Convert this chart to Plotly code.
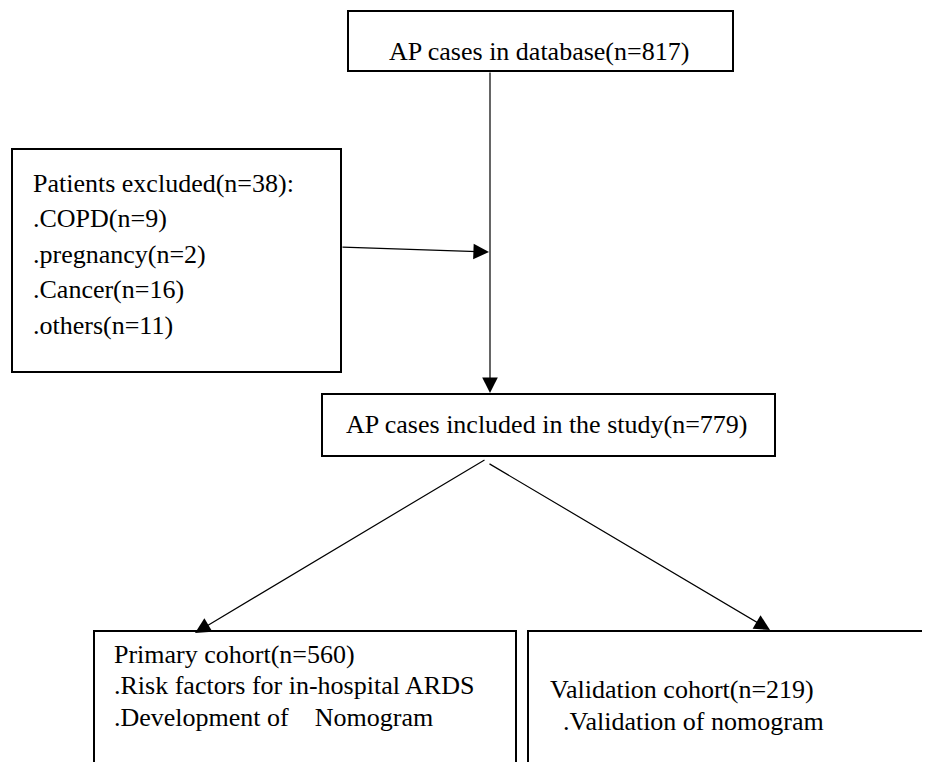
import plotly.graph_objects as go

# ---- data ----
total_cases = 817
excluded_total = 38
exclusion_reasons = ["COPD", "pregnancy", "Cancer", "others"]
exclusion_counts = [9, 2, 16, 11]
included_total = 779
primary_n = 560
validation_n = 219
primary_tasks = [".Risk factors for in-hospital ARDS",
                 ".Development of \u00a0\u00a0\u00a0Nomogram"]
validation_tasks = [".Validation of nomogram"]

# ---- layout geometry (pixels, y downward) ----
W, H = 930, 770
OFF = 8  # page body margin compensation
FONT = dict(family="Liberation Serif, Times New Roman, serif", size=26, color="black")

boxes = {
    "top": (348, 11, 733, 71),
    "excl": (12, 149, 341, 372),
    "mid": (322, 394, 775, 456),
    "prim": (94, 631, 516, 800),
    "val": (528, 631, 960, 800),
}

fig = go.Figure()
fig.add_trace(go.Scatter(x=[OFF, W], y=[OFF, H - OFF], mode="markers",
                         marker=dict(opacity=0), hoverinfo="skip", showlegend=False))

for key, (x0, y0, x1, y1) in boxes.items():
    fig.add_shape(type="rect", x0=x0, y0=y0, x1=x1, y1=y1, xref="x", yref="y",
                  line=dict(color="black", width=2), fillcolor="rgba(0,0,0,0)")

def text(x, y, s):
    fig.add_annotation(x=x, y=y, text=s, showarrow=False, xanchor="left",
                       yanchor="middle", xref="x", yref="y", font=FONT, borderpad=0)

text(388, 51, f"AP cases in database(n={total_cases})")
excl_lines = [f"Patients excluded(n={excluded_total}):"] + \
    [f".{r}(n={c})" for r, c in zip(exclusion_reasons, exclusion_counts)]
for i, s in enumerate(excl_lines):
    text(32, 183 + i * 35.5, s)
text(345, 424, f"AP cases included in the study(n={included_total})")
prim_lines = [f"Primary cohort(n={primary_n})"] + primary_tasks
for i, s in enumerate(prim_lines):
    text(113, 654 + i * 31.5, s)
text(549, 689, f"Validation cohort(n={validation_n})")
text(562, 721, validation_tasks[0])

def arrow(x0, y0, x1, y1):
    fig.add_annotation(x=x1, y=y1, ax=x0, ay=y0, xref="x", yref="y", axref="x", ayref="y",
                       text="", showarrow=True, arrowhead=2, arrowsize=2.6,
                       arrowwidth=1.2, arrowcolor="black", standoff=0)

arrow(490, 71, 490, 393)
arrow(341, 247, 489, 252)
arrow(486, 459, 195, 633)
arrow(488, 463, 770, 630)

fig.update_xaxes(range=[OFF, W], visible=False, fixedrange=True)
fig.update_yaxes(range=[H - OFF, OFF], visible=False, fixedrange=True)
fig.update_layout(width=W - OFF, height=H - 2 * OFF, margin=dict(l=0, r=0, t=0, b=0),
                  plot_bgcolor="white", paper_bgcolor="white", showlegend=False)

fig.write_html("out.html")
